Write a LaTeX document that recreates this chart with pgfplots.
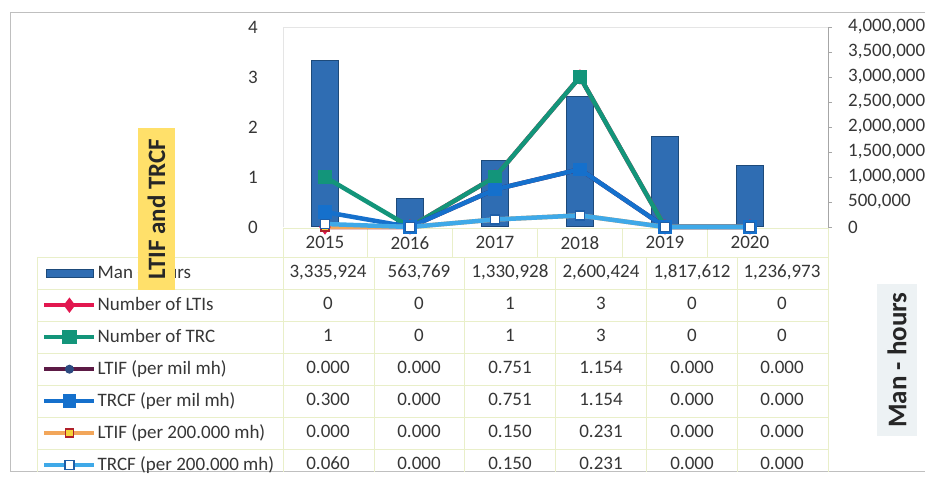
\documentclass[border=0pt]{standalone}
\usepackage{pgfplots}
\pgfplotsset{compat=1.18}
\usepackage{fontspec}
\setmainfont{Carlito}
\definecolor{barblue}{HTML}{2F6DB3}
\definecolor{bardark}{HTML}{1D4A7A}
\definecolor{ltired}{HTML}{E2174F}
\definecolor{trcgreen}{HTML}{13957A}
\definecolor{ltifpurple}{HTML}{5C1A45}
\definecolor{ltifnavy}{HTML}{2C4A80}
\definecolor{trcfblue}{HTML}{1570CC}
\definecolor{orangeline}{HTML}{F2A65A}
\definecolor{markyellow}{HTML}{F5D33A}
\definecolor{markred}{HTML}{B0202A}
\definecolor{lightblue}{HTML}{3FA9E8}
\definecolor{markblue}{HTML}{1F5FA8}
\definecolor{gridc}{HTML}{E9EFC9}
\definecolor{textcol}{HTML}{363636}
\definecolor{titleyellow}{HTML}{FFE06A}
\definecolor{titlegrey}{HTML}{EDF2F4}
\newcommand\fs{\fontsize{19}{22}\selectfont}
\newcommand\tv[3]{\node[font=\fs, text height=14pt, text depth=4pt, inner sep=0pt, text=textcol] at (#1,#2) {#3};}
\begin{document}
\begin{tikzpicture}[x=1pt,y=1pt]
\path[use as bounding box] (0,0) rectangle (925,478);
% outer frame
\draw[black!25, line width=1pt] (925,465) -- (10,465) -- (10,6) -- (925,6);
% table grid
\begin{scope}[gridc, line width=0.8pt]
\foreach \y in {221,189,157,125,93,61,29} \draw (37,\y) -- (828,\y);
\draw (283,250) -- (828,250);
\draw (37,221) -- (37,6);
\foreach \x in {283,374,464,555,646,737,828} \draw (\x,221) -- (\x,6);
\foreach \x in {283,367,452,537,622,707,828} \draw (\x,250) -- (\x,221);
\end{scope}
% faint plot area border
\draw[black!10, line width=0.8pt] (283,251) -- (283,451) -- (828,451);
% bars on right axis
\begin{axis}[at={(283pt,251pt)}, anchor=south west, width=545pt, height=200pt, scale only axis,
  xmin=-0.494, xmax=5.918, ymin=0, ymax=4000000,
  axis y line*=right, axis x line=none,
  ytick={0,500000,1000000,1500000,2000000,2500000,3000000,3500000,4000000},
  scaled y ticks=false,
  y axis line style={black!35, line width=0.8pt},
  ytick style={black!35, line width=0.8pt},
  tick align=outside, major tick length=4pt,
  yticklabel style={font=\fs, text=textcol, inner sep=0pt, xshift=16pt, /pgf/number format/.cd, fixed, 1000 sep={,}, assume math mode=true},
  ybar, bar width=27pt]
\addplot[fill=barblue, draw=bardark, line width=1pt] coordinates {(0,3335924) (1,563769) (2,1330928) (3,2600424) (4,1817612) (5,1236973)};
\end{axis}
% lines on left axis
\begin{axis}[at={(283pt,251pt)}, anchor=south west, width=545pt, height=200pt, scale only axis,
  xmin=-0.494, xmax=5.918, ymin=0, ymax=4, clip=false,
  axis line style={draw=none}, tick style={draw=none}, major tick length=0pt,
  xtick={0,1,2,3,4,5}, xticklabels={2015,2016,2017,2018,2019,2020},
  ytick={0,1,2,3,4},
  xticklabel style={font=\fs, text=textcol, inner sep=0pt, yshift=-9pt},
  yticklabel style={font=\fs, text=textcol, inner sep=0pt, xshift=-25pt, /pgf/number format/assume math mode=true},
  legend image code/.code={\draw[mark repeat=2, mark phase=2, #1] plot coordinates {(0pt,0pt) (25pt,0pt) (50pt,0pt)};},
  legend cell align=left,
  legend style={at={(axis description cs:-0.4422,-0.185)}, anchor=north west, draw=none, fill=none, inner sep=0pt, row sep=14pt, column sep=1pt,
    nodes={inner sep=0pt, text height=14pt, text depth=4pt, font=\fs, text=textcol}},
  every axis plot/.append style={line width=4.5pt}]
\addlegendimage{legend image code/.code={\draw[fill=barblue, draw=bardark, line width=1pt] (2pt,-4pt) rectangle (49pt,4pt);}}
\addlegendentry{Man - hours}
\addplot[ltired, mark=diamond*, mark size=4pt] coordinates {(0,0) (1,0) (2,1) (3,3) (4,0) (5,0)};
\addlegendentry{Number of LTIs}
\addplot[trcgreen, mark=square*, mark size=5pt] coordinates {(0,1) (1,0) (2,1) (3,3) (4,0) (5,0)};
\addlegendentry{Number of TRC}
\addplot[ltifpurple, mark=*, mark size=4pt, mark options={fill=ltifnavy, draw=ltifnavy, line width=1pt}] coordinates {(0,0) (1,0) (2,0.751) (3,1.154) (4,0) (5,0)};
\addlegendentry{LTIF (per mil mh)}
\addplot[trcfblue, mark=square*, mark size=4.5pt] coordinates {(0,0.3) (1,0) (2,0.751) (3,1.154) (4,0) (5,0)};
\addlegendentry{TRCF (per mil mh)}
\addplot[orangeline, mark=square*, mark size=4pt, mark options={fill=markyellow, draw=markred, line width=1.5pt}] coordinates {(0,0) (1,0) (2,0.150) (3,0.231) (4,0) (5,0)};
\addlegendentry{LTIF (per 200.000 mh)}
\addplot[lightblue, mark=square*, mark size=4.5pt, mark options={fill=white, draw=markblue, line width=1.5pt}] coordinates {(0,0.060) (1,0) (2,0.150) (3,0.231) (4,0) (5,0)};
\addlegendentry{TRCF (per 200.000 mh)}
\end{axis}
% data table values
\tv{328}{205}{3,335,924}\tv{419}{205}{563,769}\tv{510}{205}{1,330,928}\tv{601}{205}{2,600,424}\tv{692}{205}{1,817,612}\tv{782}{205}{1,236,973}
\tv{328}{173}{0}\tv{419}{173}{0}\tv{510}{173}{1}\tv{601}{173}{3}\tv{692}{173}{0}\tv{782}{173}{0}
\tv{328}{141}{1}\tv{419}{141}{0}\tv{510}{141}{1}\tv{601}{141}{3}\tv{692}{141}{0}\tv{782}{141}{0}
\tv{328}{109}{0.000}\tv{419}{109}{0.000}\tv{510}{109}{0.751}\tv{601}{109}{1.154}\tv{692}{109}{0.000}\tv{782}{109}{0.000}
\tv{328}{77}{0.300}\tv{419}{77}{0.000}\tv{510}{77}{0.751}\tv{601}{77}{1.154}\tv{692}{77}{0.000}\tv{782}{77}{0.000}
\tv{328}{45}{0.000}\tv{419}{45}{0.000}\tv{510}{45}{0.150}\tv{601}{45}{0.231}\tv{692}{45}{0.000}\tv{782}{45}{0.000}
\tv{328}{13}{0.060}\tv{419}{13}{0.000}\tv{510}{13}{0.150}\tv{601}{13}{0.231}\tv{692}{13}{0.000}\tv{782}{13}{0.000}
% axis titles
\node[fill=titleyellow, rotate=90, font=\bfseries\fontsize{25}{30}\selectfont, text=black!85, minimum width=162pt, minimum height=37pt, inner sep=0pt] at (156.5,269) {LTIF and TRCF};
\node[fill=titlegrey, rotate=90, font=\bfseries\fontsize{27}{32}\selectfont, text=black!85, minimum width=152pt, minimum height=40pt, inner sep=0pt] at (897,118) {Man - hours};
\end{tikzpicture}
\end{document}
